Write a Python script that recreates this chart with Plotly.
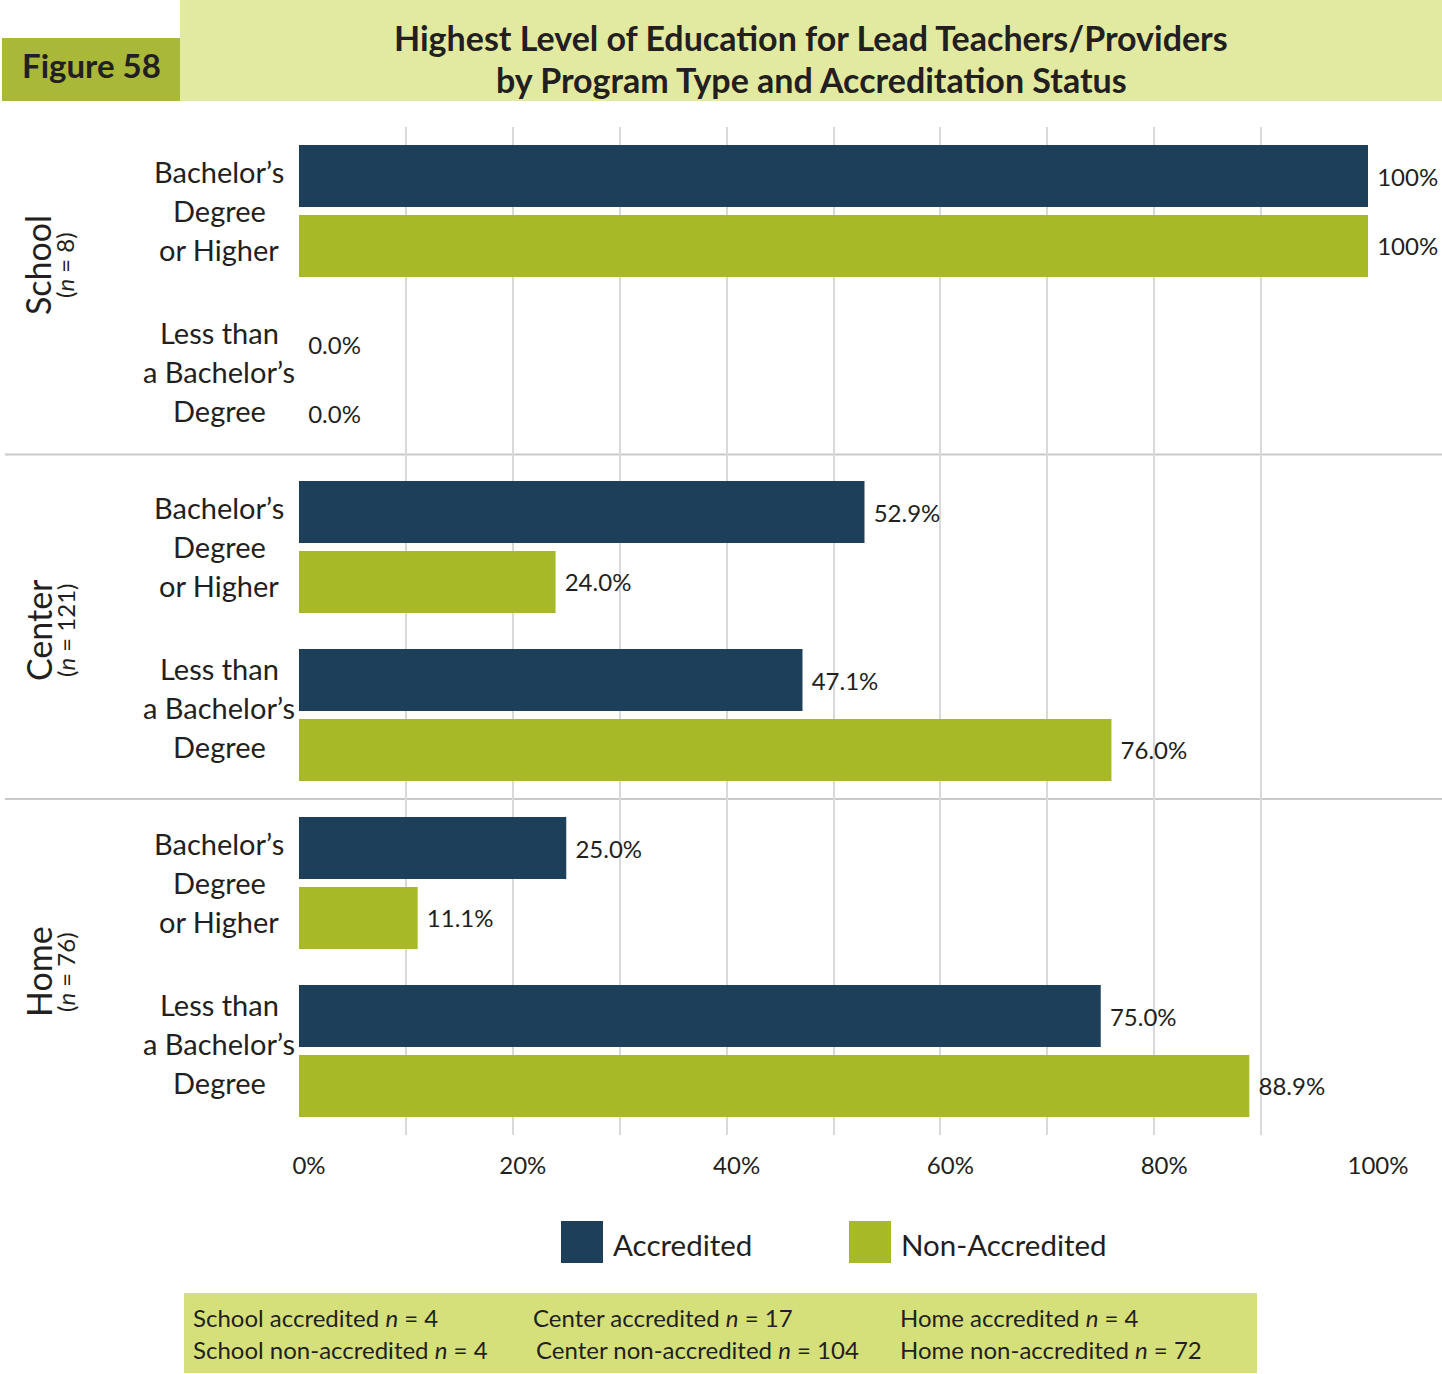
import plotly.graph_objects as go

# ---- data -----------------------------------------------------------------
program_types = ["School", "Center", "Home"]
program_n = ["8", "121", "76"]
education_levels = ["Bachelor’s<br>Degree<br>or Higher", "Less than<br>a Bachelor’s<br>Degree"]

categories = [f"{p}|{lvl}" for p in program_types for lvl in ("bach", "less")]
accredited = [100, 0.0, 52.9, 47.1, 25.0, 75.0]
non_accredited = [100, 0.0, 24.0, 76.0, 11.1, 88.9]

tick_values = [0, 20, 40, 60, 80, 100]
tick_text = ["0%", "20%", "40%", "60%", "80%", "100%"]

footer_rows = [
    ["School accredited <i>n</i> = 4", "Center accredited <i>n</i> = 17", "Home accredited <i>n</i> = 4"],
    ["School non-accredited <i>n</i> = 4", "Center non-accredited <i>n</i> = 104", "Home non-accredited <i>n</i> = 72"],
]

# ---- styling --------------------------------------------------------------
W, H = 1442, 1374
L, R, T, B = 299, 74, 127, 239
PW, PH = W - L - R, H - T - B

DARK = "#1e3f59"
GREEN = "#a7b927"
TEXT = "#231f20"
FONT = "Lato"


def fx(px):
    """pixel x -> paper x"""
    return (px - L) / PW


def fy(py):
    """pixel y -> paper y"""
    return (H - B - py) / PH


def label(v):
    return "100%" if v == 100 else f"{v:.1f}%"


def note(x, y, text, size, xanchor="center", **kw):
    return dict(xref="paper", yref="paper", x=fx(x), y=fy(y), text=text,
                xanchor=xanchor, yanchor="middle", showarrow=False,
                font=dict(size=size, color=TEXT, family=FONT), **kw)


fig = go.Figure()
for name, vals, col in (("Accredited", accredited, DARK), ("Non-Accredited", non_accredited, GREEN)):
    fig.add_trace(go.Bar(
        name=name, y=categories, x=vals, orientation="h",
        marker=dict(color=col, line=dict(width=0)),
        text=["\u00a0" + label(v) for v in vals], textposition="outside",
        textfont=dict(size=24, color=TEXT, family=FONT), cliponaxis=False,
        constraintext="none",
    ))

shapes = []
annotations = []

# header boxes
shapes.append(dict(type="rect", xref="paper", yref="paper", x0=fx(180), x1=fx(1442),
                   y0=fy(101), y1=fy(0), fillcolor="#e2e9a1", line=dict(width=0), layer="below"))
shapes.append(dict(type="rect", xref="paper", yref="paper", x0=fx(2), x1=fx(180),
                   y0=fy(101), y1=fy(38), fillcolor="#a9b838", line=dict(width=0), layer="below"))
annotations.append(note(91, 65, "<b>Figure 58</b>", 33))
annotations.append(note(811, 37, "<b>Highest Level of Education for Lead Teachers/Providers</b>", 34))
annotations.append(note(811, 80, "<b>by Program Type and Accreditation Status</b>", 34))

# separators between program types
for yv in (1.45, 3.5):
    shapes.append(dict(type="line", xref="paper", yref="y", x0=fx(5), x1=fx(1442), y0=yv, y1=yv,
                       line=dict(color="#c9c9c9", width=2), layer="below"))

# education-level labels (one annotation per line for even spacing)
for i, cat in enumerate(categories):
    lines = education_levels[i % 2].split("<br>")
    lift = 1 if i % 2 == 0 else 8
    for j, ln in enumerate(lines):
        annotations.append(dict(xref="paper", yref="y", x=fx(219), y=cat, text=ln,
                                xanchor="center", yanchor="middle",
                                showarrow=False, yshift=(1 - j) * 39 + lift,
                                font=dict(size=29, color=TEXT, family=FONT)))

# program type labels, rotated
section_centers = [265, 630, 972]
for p, n, yc in zip(program_types, program_n, section_centers):
    annotations.append(note(38, yc, p, 34, textangle=-90))
    annotations.append(note(65, yc, f"(<i>n</i> = {n})", 24, textangle=-90))

# legend
for name, col, x0 in (("Accredited", DARK, 561), ("Non-Accredited", GREEN, 849)):
    shapes.append(dict(type="rect", xref="paper", yref="paper", x0=fx(x0), x1=fx(x0 + 42),
                       y0=fy(1263), y1=fy(1221), fillcolor=col, line=dict(width=0)))
    annotations.append(note(x0 + 50, 1244, name, 29.5, xanchor="left"))

# footer box with sample sizes
shapes.append(dict(type="rect", xref="paper", yref="paper", x0=fx(184), x1=fx(1257),
                   y0=fy(1373), y1=fy(1293), fillcolor="#d5e07a", line=dict(width=0), layer="below"))
col_x = [[191, 531, 898], [191, 534, 898]]
for r, (row, ycen) in enumerate(zip(footer_rows, (1317, 1349))):
    for c, txt in enumerate(row):
        annotations.append(note(col_x[r][c], ycen, txt, 24, xanchor="left"))

fig.update_layout(
    width=W, height=H,
    margin=dict(l=L, r=R, t=T, b=B, pad=0),
    paper_bgcolor="white", plot_bgcolor="white",
    barmode="group", bargap=0.167, bargroupgap=0.114,
    showlegend=False,
    font=dict(family=FONT, color=TEXT),
    shapes=shapes, annotations=annotations,
    xaxis=dict(range=[0, 100], tickmode="array", tickvals=tick_values, ticktext=tick_text,
               showgrid=True, gridcolor="#d9d9d9", gridwidth=1.5,
               minor=dict(dtick=10, showgrid=True, gridcolor="#d9d9d9", gridwidth=1.5),
               zeroline=False, showline=False, ticks="",
               tickfont=dict(size=24, color=TEXT, family=FONT),
               ticklabelstandoff=14, ticklabelshift=10, fixedrange=True),
    yaxis=dict(categoryorder="array", categoryarray=categories, autorange="reversed",
               showticklabels=False, showgrid=False, zeroline=False, showline=False, ticks=""),
)

fig.write_html("out.html")
